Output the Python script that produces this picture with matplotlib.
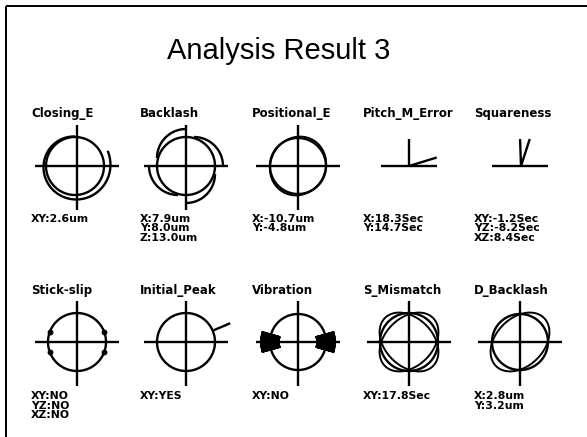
import numpy as np
import matplotlib
matplotlib.use("Agg")
import matplotlib.pyplot as plt

# ---- content -------------------------------------------------------------
title = "Analysis Result 3"

names_top = ["Closing_E", "Backlash", "Positional_E", "Pitch_M_Error", "Squareness"]
readings_top = [
    ["XY:2.6um"],
    ["X:7.9um", "Y:8.0um", "Z:13.0um"],
    ["X:-10.7um", "Y:-4.8um"],
    ["X:18.3Sec", "Y:14.7Sec"],
    ["XY:-1.2Sec", "YZ:-8.2Sec", "XZ:8.4Sec"],
]

names_bottom = ["Stick-slip", "Initial_Peak", "Vibration", "S_Mismatch", "D_Backlash"]
readings_bottom = [
    ["XY:NO", "YZ:NO", "XZ:NO"],
    ["XY:YES"],
    ["XY:NO"],
    ["XY:17.8Sec"],
    ["X:2.8um", "Y:3.2um"],
]

# ---- glyph shape parameters (plot units, nominal circle radius) ----------
ref_radius = 29
closing_spiral = (29.5, 36.0, 90, 385)      # r_start, r_end, deg_start, deg_end
backlash_step = 8
positional_ellipse = (30.0, 27.5, 60)       # a, b, tilt (deg)
pitch_tilt = 17                             # deg above horizontal
square_tilts = [-2, 18]                     # deg off vertical
stick_marks = [20, 160, 200, 340]           # deg
peak_spike = (23, 30, 48)                   # deg, r_in, r_out
vib_centers = [0, 180]                      # deg
vib_half_span = 16
vib_amp = 9
mismatch_ellipses = [(34, 24, 45), (34, 24, -45)]
dback_ellipses = [(34, 24, 45)]

# ---- layout (pixels) -----------------------------------------------------
W, H = 587, 437
col_x = [77, 186, 298, 409, 520]
row_y = [166, 342]
name_base = [117, 294]
reading_base = [221.5, 399]
line_step = 9.6
text_dx = -46
half = 55

LW = 1.7
INK = "black"

fig = plt.figure(figsize=(W / 100, H / 100), dpi=100)
fig.patch.set_facecolor("white")

bg = fig.add_axes([0, 0, 1, 1])
bg.set_xlim(0, W)
bg.set_ylim(H, 0)
bg.axis("off")

# page frame (top and left edges)
bg.plot([5.5, W + 5], [5.5, 5.5], color=INK, lw=1.4, solid_capstyle="butt")
bg.plot([5.5, 5.5], [5.5, H + 5], color=INK, lw=1.4, solid_capstyle="butt")

bg.text(279, 59, title, ha="center", va="baseline",
        fontsize=21, family="Liberation Sans", color=INK)


def glyph_axes(cx, cy):
    ax = fig.add_axes([(cx - half) / W, 1 - (cy + half) / H, 2 * half / W, 2 * half / H])
    ax.set_xlim(-half, half)
    ax.set_ylim(-half, half)
    ax.axis("off")
    return ax


def line(ax, xs, ys, lw=LW):
    ax.plot(xs, ys, color=INK, lw=lw, solid_capstyle="butt")


def cross(ax):
    line(ax, [-42, 42], [0, 0])
    line(ax, [0, 0], [-44, 41])


def circle(ax, r, cx=0.0, cy=0.0, d0=0, d1=360):
    t = np.radians(np.linspace(d0, d1, 240))
    line(ax, cx + r * np.cos(t), cy + r * np.sin(t))


def ellipse(ax, a, b, tilt):
    t = np.linspace(0, 2 * np.pi, 300)
    x, y = a * np.cos(t), b * np.sin(t)
    c, s = np.cos(np.radians(tilt)), np.sin(np.radians(tilt))
    line(ax, c * x - s * y, s * x + c * y, lw=1.4)


def draw_closing(ax):
    cross(ax)
    circle(ax, ref_radius, cx=-2)
    r0, r1, d0, d1 = closing_spiral
    t = np.radians(np.linspace(d0, d1, 300))
    r = np.linspace(r0, r1, 300)
    line(ax, -2 + r * np.cos(t), r * np.sin(t))


def draw_backlash(ax):
    cross(ax)
    circle(ax, ref_radius)
    for k in range(4):
        ang = np.radians(90 * k)
        circle(ax, ref_radius, backlash_step * np.cos(ang), backlash_step * np.sin(ang),
               90 * k, 90 * (k + 1))


def draw_positional(ax):
    cross(ax)
    circle(ax, 28)
    ellipse(ax, *positional_ellipse)


def draw_pitch(ax):
    line(ax, [-28, 28], [0, 0])
    line(ax, [0, 0], [0, 27])
    t = np.radians(pitch_tilt)
    line(ax, [0, 29 * np.cos(t)], [0, 29 * np.sin(t)])


def draw_square(ax):
    line(ax, [-28, 28], [0, 0])
    for d in square_tilts:
        line(ax, [1, 1 + 27 * np.tan(np.radians(d))], [0, 27])


def draw_stick(ax):
    cross(ax)
    circle(ax, ref_radius)
    t = np.radians(stick_marks)
    ax.plot(ref_radius * np.cos(t), ref_radius * np.sin(t), "o", color=INK, ms=3.2)


def draw_peak(ax):
    cross(ax)
    circle(ax, ref_radius)
    d, r_in, r_out = peak_spike
    t = np.radians(d)
    line(ax, [r_in * np.cos(t), r_out * np.cos(t)], [r_in * np.sin(t), r_out * np.sin(t)])


def draw_vibration(ax):
    cross(ax)
    circle(ax, 28)
    for c in vib_centers:
        n = 90
        t = np.radians(np.linspace(c - vib_half_span, c + vib_half_span, n))
        r = 28 + vib_amp * (-1.0) ** np.arange(n)
        ax.plot(r * np.cos(t), r * np.sin(t), color=INK, lw=1.2)


def draw_mismatch(ax):
    cross(ax)
    circle(ax, ref_radius)
    for e in mismatch_ellipses:
        ellipse(ax, *e)


def draw_dback(ax):
    cross(ax)
    circle(ax, 28)
    for e in dback_ellipses:
        ellipse(ax, *e)


painters = [
    [draw_closing, draw_backlash, draw_positional, draw_pitch, draw_square],
    [draw_stick, draw_peak, draw_vibration, draw_mismatch, draw_dback],
]
names = [names_top, names_bottom]
readings = [readings_top, readings_bottom]

for row in range(2):
    for col in range(5):
        cx, cy = col_x[col], row_y[row]
        painters[row][col](glyph_axes(cx, cy))
        bg.text(cx + text_dx, name_base[row], names[row][col], ha="left", va="baseline",
                fontsize=8.5, fontweight="bold", family="DejaVu Sans", color=INK)
        for i, s in enumerate(readings[row][col]):
            bg.text(cx + text_dx, reading_base[row] + i * line_step, s, ha="left",
                    va="baseline", fontsize=7.8, fontweight="bold",
                    family="DejaVu Sans", color=INK)

fig.savefig("out.png", dpi=100, facecolor="white")
